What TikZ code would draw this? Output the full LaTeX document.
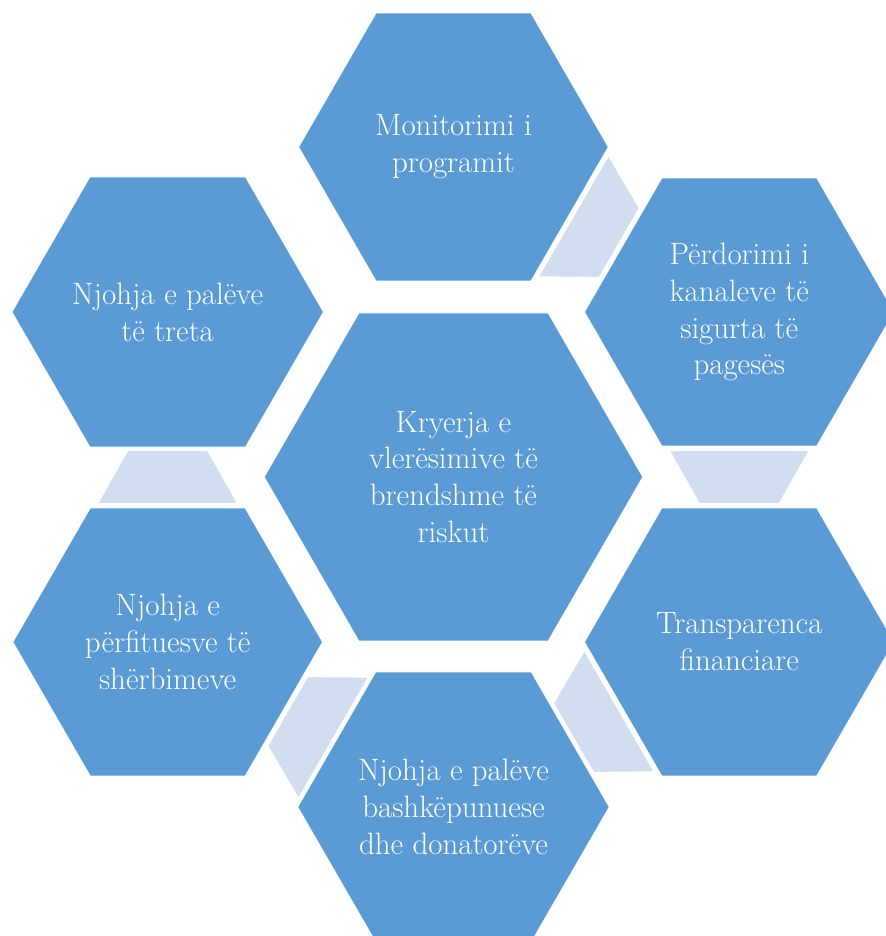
\documentclass[tikz,border=0pt]{standalone}
\usepackage{tikz}
\usetikzlibrary{shapes.geometric, calc}

\definecolor{hexblue}{HTML}{5B9BD5}
\definecolor{linkblue}{HTML}{D2DEEF}

\tikzset{
  hexbox/.style={regular polygon, regular polygon sides=6, fill=hexblue, draw=white,
    line width=0.6pt, inner sep=0pt, text=white, align=center,
    font=\fontsize{17.6}{21}\selectfont},
  mainhex/.style={hexbox, minimum size=7.58cm},
  sidehex/.style={hexbox, minimum size=6.2cm},
  link/.style={fill=linkblue, draw=white, line width=0.6pt}
}

\begin{document}
\begin{tikzpicture}
    \clip (-9.07,-9.18) rectangle (8.65,9.54);
    \node[mainhex] (risk) at (0,0) {Kryerja e\\vlerësimive të\\brendshme të\\riskut};
    \foreach \ang/\nm/\lbl in {90/mon/{Monitorimi i\\programit}, 30/pay/{Përdorimi i\\kanaleve të\\sigurta të\\pagesës}, -30/fin/{Transparenca\\financiare}, -90/don/{Njohja e palëve\\bashkëpunuese\\dhe donatorëve}, -150/ben/{Njohja e\\përfituesve të\\shërbimeve}, 150/thr/{Njohja e palëve\\të treta}} {
      \node[sidehex] (\nm) at (\ang:6.6) {\lbl};
    }
    \foreach \a/\b in {mon/pay, pay/fin, fin/don, don/ben, ben/thr} {
      \path let \p1=($(\b)-(\a)$) in \pgfextra{\pgfmathsetmacro\linkang{atan2(\y1,\x1)}\global\let\linkang\linkang};
      \begin{scope}[shift={($(\a)!0.5!(\b)$)}, rotate=\linkang]
        \path[link] (-0.53,1.4) -- (0.53,0.8) -- (0.53,-0.8) -- (-0.53,-1.4) -- cycle;
      \end{scope}
    }
\end{tikzpicture}
\end{document}
